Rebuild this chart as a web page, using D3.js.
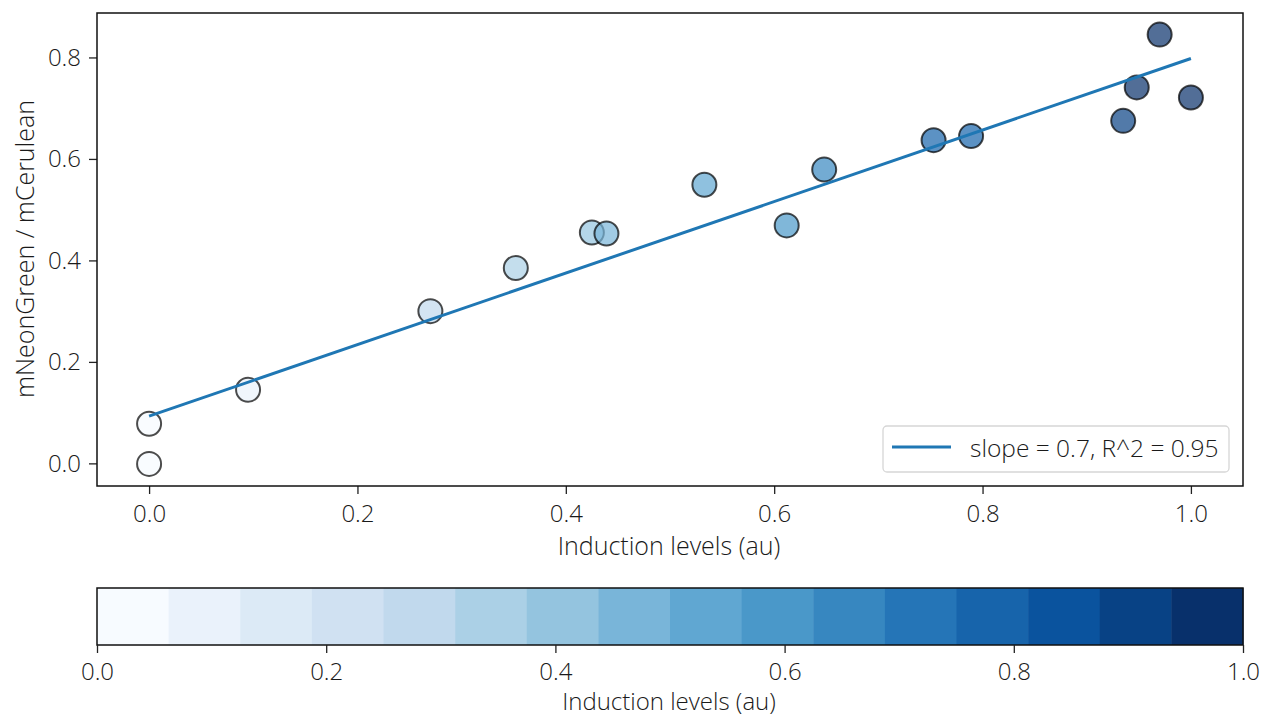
<!DOCTYPE html>
<html><head><meta charset="utf-8">
<script src="https://cdn.jsdelivr.net/npm/d3@7"></script>
<style>
body{margin:0;background:#fff;}
text{font-family:"Open Sans",sans-serif;font-weight:300;fill:#1a1a1a;}
</style></head>
<body><svg id="chart" width="1262" height="719"></svg>
<script>
// Data
const induction = [0.0, 0.0, 0.095, 0.270, 0.352, 0.425, 0.439, 0.533, 0.612, 0.648, 0.753, 0.789, 0.935, 0.948, 0.970, 1.0];
const ratio     = [-0.001, 0.078, 0.145, 0.300, 0.385, 0.455, 0.453, 0.549, 0.469, 0.579, 0.637, 0.645, 0.675, 0.741, 0.845, 0.721];
const fitIntercept = 0.093;
const fitSlope = 0.705;
const legendLabel = "slope = 0.7, R^2 = 0.95";
const xTicks = [0.0, 0.2, 0.4, 0.6, 0.8, 1.0];
const yTicks = [0.0, 0.2, 0.4, 0.6, 0.8];
const cbTicks = [0.0, 0.2, 0.4, 0.6, 0.8, 1.0];
const nBins = 16;
const bluesStops = ["#f7fbff","#deebf7","#c6dbef","#9ecae1","#6baed6","#4292c6","#2171b5","#08519c","#08306b"];

const svg = d3.select("#chart");
const blues = d3.piecewise(d3.interpolateRgb, bluesStops);
const binColor = v => { const i = Math.min(nBins - 1, Math.floor(v * nBins)); return blues(i / (nBins - 1)); };

// Main plot
const L = 97, R = 1243, T = 13, B = 486;
const x = d3.scaleLinear().domain([-0.05, 1.05]).range([L, R]);
const y = d3.scaleLinear().domain([-0.0446, 0.8876]).range([B, T]);

const gx = svg.append("g").attr("transform", `translate(0,${B})`)
  .call(d3.axisBottom(x).tickValues(xTicks).tickFormat(d3.format(".1f")).tickSize(8).tickPadding(11));
const gy = svg.append("g").attr("transform", `translate(${L},0)`)
  .call(d3.axisLeft(y).tickValues(yTicks).tickFormat(d3.format(".1f")).tickSize(8).tickPadding(8));
[gx, gy].forEach(g => {
  g.select(".domain").remove();
  g.selectAll("line").attr("stroke", "#222").attr("stroke-width", 1.3);
  g.selectAll("text").style("font-size", "24px").attr("fill", "#262626");
});

const data = induction.map((v, i) => ({x: v, y: ratio[i]}));
svg.append("g").selectAll("circle").data(data).join("circle")
  .attr("cx", d => x(d.x)).attr("cy", d => y(d.y)).attr("r", 12)
  .attr("fill", d => binColor(d.x)).attr("fill-opacity", 0.7)
  .attr("stroke", "#000").attr("stroke-opacity", 0.7).attr("stroke-width", 2);

const xmin = d3.min(induction), xmax = d3.max(induction);
svg.append("line")
  .attr("x1", x(xmin)).attr("y1", y(fitIntercept + fitSlope * xmin))
  .attr("x2", x(xmax)).attr("y2", y(fitIntercept + fitSlope * xmax))
  .attr("stroke", "#1f77b4").attr("stroke-width", 3);

svg.append("rect").attr("x", L).attr("y", T).attr("width", R - L).attr("height", B - T)
  .attr("fill", "none").attr("stroke", "#111").attr("stroke-width", 1.5);

// legend
const lg = svg.append("g");
lg.append("rect").attr("x", 883).attr("y", 426).attr("width", 346).attr("height", 46).attr("rx", 4)
  .attr("fill", "#fff").attr("fill-opacity", 0.8).attr("stroke", "#d6d6d6").attr("stroke-width", 1.3);
lg.append("line").attr("x1", 892).attr("x2", 951).attr("y1", 447).attr("y2", 447)
  .attr("stroke", "#1f77b4").attr("stroke-width", 3);
lg.append("text").attr("x", 970).attr("y", 457).style("font-size", "24.5px").attr("fill", "#1a1a1a").text(legendLabel);

svg.append("text").attr("x", 669).attr("y", 555).attr("text-anchor", "middle")
  .style("font-size", "25px").text("Induction levels (au)");
svg.append("text").attr("transform", "translate(34,249) rotate(-90)").attr("text-anchor", "middle")
  .style("font-size", "25px").text("mNeonGreen / mCerulean");

// Colorbar
const cT = 588, cB = 645;
const cx = d3.scaleLinear().domain([0, 1]).range([L, R]);
const bins = d3.range(nBins);
svg.append("g").selectAll("rect").data(bins).join("rect")
  .attr("x", i => cx(i / nBins)).attr("y", cT)
  .attr("width", i => cx((i + 1) / nBins) - cx(i / nBins) + 0.5).attr("height", cB - cT)
  .attr("fill", i => blues(i / (nBins - 1)));
svg.append("rect").attr("x", L).attr("y", cT).attr("width", R - L).attr("height", cB - cT)
  .attr("fill", "none").attr("stroke", "#111").attr("stroke-width", 1.5);
const gc = svg.append("g").attr("transform", `translate(0,${cB})`)
  .call(d3.axisBottom(cx).tickValues(cbTicks).tickFormat(d3.format(".1f")).tickSize(8).tickPadding(10));
gc.select(".domain").remove();
gc.selectAll("line").attr("stroke", "#222").attr("stroke-width", 1.3);
gc.selectAll("text").style("font-size", "24px").attr("fill", "#262626");
svg.append("text").attr("x", 669).attr("y", 710).attr("text-anchor", "middle")
  .style("font-size", "24px").text("Induction levels (au)");
</script></body></html>
